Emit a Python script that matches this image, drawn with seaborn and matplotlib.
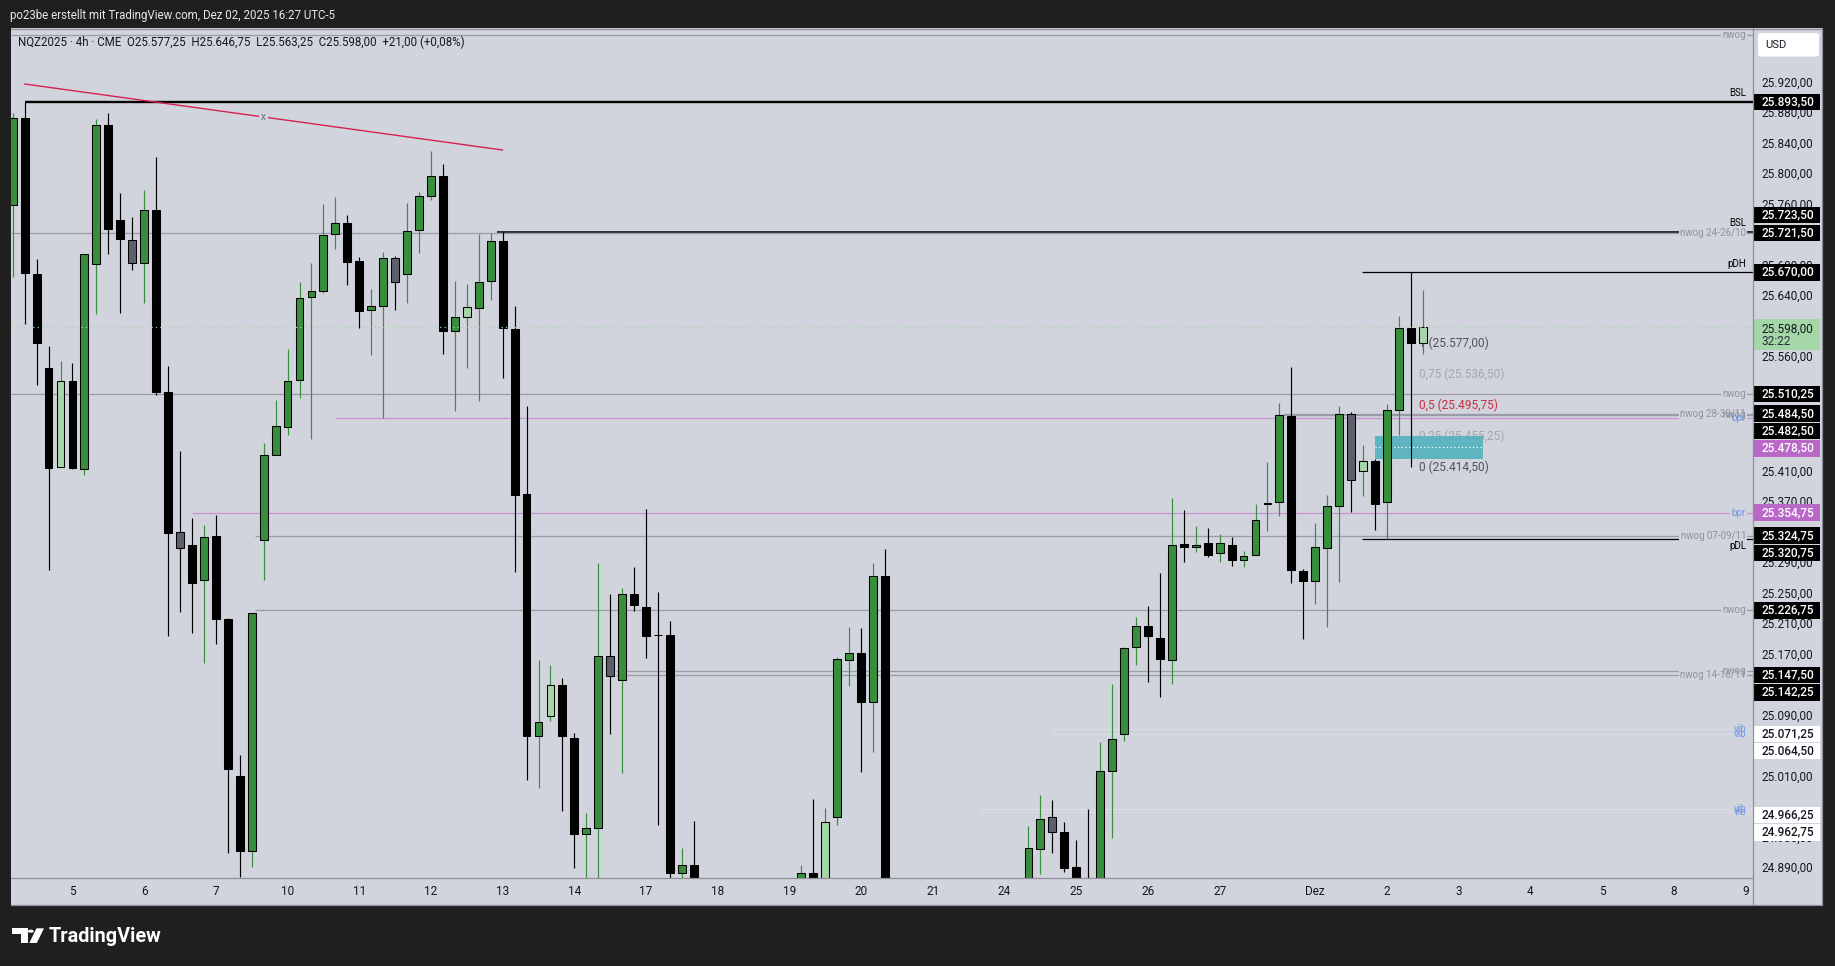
import matplotlib
matplotlib.use("Agg")
import numpy as np
import matplotlib.pyplot as plt
from matplotlib.patches import Rectangle, FancyBboxPatch, Circle, Polygon
from matplotlib.lines import Line2D
import seaborn as sns

# ---------------- data (NQZ2025, 4h bars) ----------------
opens = [25758.5, 25872.8, 25667.3, 25544.4, 25414.9, 25527.9, 25412.3, 25680.5, 25862.9, 25738.0,
         25712.9, 25682.5, 25751.2, 25512.7, 25329.0, 25311.8, 25266.2, 25323.7, 25214.7, 25009.2,
         24911.4, 25319.1, 25430.1, 25467.8, 25529.2, 25637.5, 25646.1, 25720.8, 25735.3, 25684.5,
         25620.8, 25626.4, 25689.2, 25667.8, 25724.9, 25770.7, 25795.8, 25592.5, 25612.0, 25622.6,
         25659.0, 25710.5, 25596.3, 25379.8, 25062.3, 25088.6, 25128.2, 25059.8, 24933.0, 24941.8,
         25167.1, 25135.7, 25248.0, 25231.7, 25194.7, 25194.7, 24882.8, 24892.9, 24760.0, 24700.0,
         24620.0, 24660.0, 24720.0, 24610.0, 24680.0, 24760.0, 24830.0, 24882.2, 24830.0, 24956.2,
         25162.1, 25170.8, 25106.8, 25271.9, 24700.0, 24540.0, 24450.0, 24520.0, 24360.0, 24420.0,
         24560.0, 24680.0, 24740.0, 24700.0, 24760.0, 24800.0, 24914.2, 24956.2, 24936.2, 24890.3,
         24840.0, 24830.0, 25015.8, 25064.2, 25178.4, 25206.6, 25190.9, 25161.4, 25313.3, 25310.2,
         25314.5, 25301.4, 25312.7, 25292.6, 25298.9, 25366.5, 25368.5, 25481.5, 25278.2, 25264.9,
         25308.9, 25362.9, 25484.6, 25409.9, 25422.5, 25368.5, 25489.0, 25596.9, 25577.25]
highs = [25879.4, 25893.5, 25687.1, 25573.5, 25553.6, 25551.7, 25694.4, 25870.8, 25878.7, 25773.7,
         25742.6, 25778.3, 25821.2, 25547.0, 25436.0, 25347.5, 25338.9, 25352.1, 25216.7, 25037.0,
         25222.6, 25446.6, 25502.8, 25568.9, 25657.4, 25682.5, 25759.8, 25769.0, 25745.2, 25689.8,
         25648.4, 25696.7, 25691.7, 25760.7, 25775.1, 25829.1, 25812.1, 25659.0, 25654.6, 25719.9,
         25721.5, 25723.5, 25626.4, 25495.2, 25161.4, 25154.5, 25138.2, 25066.1, 24960.6, 25289.4,
         25248.0, 25255.5, 25283.2, 25359.1, 25250.5, 25212.3, 24915.4, 24950.0, 24820.0, 24780.0,
         24700.0, 24760.0, 24800.0, 24700.0, 24790.0, 24850.0, 24892.2, 24979.4, 24968.1, 25165.2,
         25204.7, 25203.5, 25288.8, 25307.0, 24760.0, 24600.0, 24560.0, 24600.0, 24480.0, 24600.0,
         24720.0, 24800.0, 24820.0, 24780.0, 24840.0, 24943.7, 24984.5, 24977.6, 24948.7, 24926.1,
         24965.6, 25053.5, 25130.0, 25178.4, 25217.9, 25232.3, 25276.3, 25373.5, 25357.8, 25337.1,
         25334.6, 25326.5, 25322.7, 25304.5, 25366.0, 25421.2, 25498.4, 25546.1, 25280.7, 25340.9,
         25377.9, 25494.6, 25486.5, 25443.2, 25425.0, 25497.8, 25612.6, 25670.0, 25646.75]
lows = [25663.3, 25601.9, 25522.6, 25280.1, 25414.9, 25411.6, 25403.7, 25615.7, 25693.7, 25617.1,
        25672.6, 25630.3, 25509.4, 25193.6, 25223.9, 25197.5, 25157.9, 25182.3, 24908.1, 24877.1,
        24890.3, 25266.9, 25430.1, 25457.2, 25504.8, 25451.9, 25643.5, 25701.0, 25652.8, 25596.6,
        25561.2, 25478.3, 25620.1, 25630.2, 25694.8, 25764.5, 25562.4, 25488.4, 25544.8, 25500.9,
        25634.0, 25531.6, 25277.5, 25004.5, 24993.9, 25081.1, 24963.7, 24889.1, 24840.0, 24850.0,
        25064.8, 25014.0, 25226.1, 25164.6, 24945.6, 24875.9, 24860.0, 24700.0, 24640.0, 24560.0,
        24520.0, 24600.0, 24580.0, 24540.0, 24640.0, 24700.0, 24800.0, 24790.0, 24810.0, 24945.6,
        25127.5, 25015.2, 25040.3, 24640.0, 24480.0, 24380.0, 24350.0, 24300.0, 24200.0, 24380.0,
        24500.0, 24620.0, 24650.0, 24640.0, 24700.0, 24780.0, 24880.9, 24908.6, 24884.1, 24810.0,
        24790.0, 24820.0, 24928.0, 25054.8, 25155.2, 25133.2, 25113.7, 25130.0, 25290.7, 25302.6,
        25296.3, 25290.7, 25285.0, 25283.8, 25298.9, 25330.9, 25350.9, 25263.1, 25189.7, 25235.5,
        25205.3, 25264.3, 25355.9, 25376.7, 25332.7, 25320.75, 25457.0, 25414.5, 25563.25]
closes = [25872.8, 25668.6, 25576.8, 25413.6, 25527.9, 25412.9, 25694.4, 25862.9, 25727.4, 25714.2,
          25682.5, 25751.2, 25512.7, 25327.7, 25307.9, 25263.0, 25322.4, 25215.4, 25019.1, 24911.4,
          25222.6, 25430.1, 25469.1, 25527.9, 25636.9, 25646.1, 25719.5, 25735.3, 25683.1, 25619.7,
          25626.4, 25689.2, 25657.8, 25723.7, 25769.5, 25795.8, 25592.5, 25612.0, 25623.9, 25657.8,
          25710.5, 25597.5, 25378.5, 25062.3, 25079.9, 25128.2, 25062.3, 24933.6, 24941.8, 25167.1,
          25140.7, 25248.6, 25234.2, 25193.4, 25194.7, 24882.8, 24892.9, 24760.0, 24700.0, 24620.0,
          24660.0, 24720.0, 24610.0, 24680.0, 24760.0, 24820.0, 24882.2, 24820.0, 24948.7, 25162.7,
          25170.2, 25106.8, 25271.9, 24700.0, 24540.0, 24450.0, 24520.0, 24360.0, 24420.0, 24560.0,
          24680.0, 24740.0, 24700.0, 24760.0, 24800.0, 24914.8, 24952.5, 24936.2, 24889.1, 24840.0,
          24830.0, 25015.8, 25057.9, 25177.1, 25206.6, 25192.8, 25162.7, 25312.7, 25310.2, 25312.7,
          25299.5, 25314.5, 25293.2, 25298.2, 25344.7, 25367.2, 25483.3, 25279.4, 25264.9, 25310.2,
          25362.9, 25484.6, 25398.0, 25422.5, 25366.6, 25489.0, 25596.9, 25577.0, 25598.0]
light_bars = [4, 38, 45, 68, 113, 118]
gray_bars = [10, 14, 32, 50, 87, 112]

day_tick_bars = [5, 11, 17, 23, 29, 35, 41, 47, 53, 59, 65, 71, 77, 83, 89, 95, 101, 109,
                 115, 121, 127, 133, 139, 145]
day_tick_labels = ["5", "6", "7", "10", "11", "12", "13", "14", "17", "18", "19", "20", "21",
                   "24", "25", "26", "27", "Dez", "2", "3", "4", "5", "8", "9"]
price_ticks = [25920, 25880, 25840, 25800, 25760, 25680, 25640, 25560, 25410, 25370, 25290,
               25250, 25210, 25170, 25090, 25010, 24930, 24890]

level_prices = [25981.0, 25893.5, 25723.5, 25721.5, 25670.0, 25510.25, 25484.5, 25482.5,
                25478.5, 25354.75, 25324.75, 25320.75, 25226.75, 25147.5, 25142.25,
                25071.25, 25064.5, 24966.25, 24962.75]
level_start = [None, 1, 40.5, None, 112.9, None, 106.3, 106.3, 27, 15, 20.3, 112.9, 20.3,
               50.5, 50.5, 87, 87, 81, 81]
level_kind = ['nwog', 'bsl2', 'bsl', 'nwog', 'pdh', 'nwog', 'nwog', 'nwog', 'bpr', 'bpr',
              'nwog', 'pdl', 'nwog', 'nwog', 'nwog', 'vib', 'vib', 'vib', 'vib']
level_text = ['nwog', 'BSL', 'BSL', 'nwog 24-26/10', 'pDH', 'nwog', 'nwog 28-30/11', 'nwog',
              'bpr', 'bpr', 'nwog 07-09/11', 'pDL', 'nwog', 'nwog', 'nwog 14-16/11',
              'vib', 'vib', 'vib', 'vib']

fib_ratio_labels = ["1", "0,75", "0,5", "0,25", "0"]
fib_values = [25577.0, 25536.5, 25495.75, 25455.25, 25414.5]
fib_start = 117.7

fvg_start, fvg_end = 114, 123
fvg_low, fvg_high = 25425.0, 25456.0

trend_x = [1, 41]
trend_y = [25917.0, 25830.4]

last_price = 25598.0
countdown = "32:22"

# ---------------- style ----------------
sns.set_theme(style="white")
plt.rcParams['font.family'] = ['Roboto', 'DejaVu Sans']

W, H, DPI = 1835, 966, 100
FRAME = '#1f1f1f'
PANE = '#d1d4dc'
TXT = '#131722'
GREEN = '#388e3c'
LIGHT = '#a5d6a7'
GRAYC = '#5d606b'
BORDER = '#8d9099'


def de(v):
    s = f"{v:,.2f}"
    return s.replace(",", "X").replace(".", ",").replace("X", ".")


def fx(px):
    return px / W


def fy(py):
    return 1 - py / H


fig = plt.figure(figsize=(W / DPI, H / DPI), dpi=DPI, facecolor=FRAME)

# pane background
fig.patches.append(Rectangle((fx(10.5), fy(905)), fx(1822) - fx(10.5), fy(28) - fy(905),
                             transform=fig.transFigure, facecolor=PANE, edgecolor='none', zorder=-1))

PL, PR, PT, PB = 10.5, 1752.5, 28, 878
ax = fig.add_axes([fx(PL), fy(PB), fx(PR) - fx(PL), fy(PT) - fy(PB)])
ax.set_facecolor(PANE)
XL = (PL - 12.7) / 11.95
XR = (PR - 12.7) / 11.95
YT = 25920 + (81.7 - PT) / 0.7625
YB = 25920 - (PB - 81.7) / 0.7625
for s in ax.spines.values():
    s.set_visible(False)

# ---------------- levels ----------------
line_style = {
    'nwog': dict(color='#9a9ca5', lw=0.9),
    'bsl2': dict(color='black', lw=1.7),
    'bsl': dict(color='black', lw=1.1),
    'pdh': dict(color='black', lw=0.9),
    'pdl': dict(color='black', lw=0.9),
    'bpr': dict(color='#c793d6', lw=0.9),
    'vib': dict(color='#dcdfe6', lw=0.6),
}
text_style = {
    'nwog': ('#8f929b', 'center'), 'bsl2': ('black', 'above'), 'bsl': ('black', 'above'),
    'pdh': ('black', 'above'), 'pdl': ('black', 'below'), 'bpr': ('#6b96ee', 'center'),
    'vib': ('#6b96ee', 'center'),
}
for p, st, kind in zip(level_prices, level_start, level_kind):
    x0 = XL if st is None else st
    ax.hlines(p, x0, XR, zorder=1, **line_style[kind])

tx = ax.get_yaxis_transform()
lab_x = (1746 - PL) / (PR - PL)
# gap backgrounds for centered labels
for p, kind, t in zip(level_prices, level_kind, level_text):
    col, pos = text_style[kind]
    if pos == 'center':
        ax.text(lab_x, p, t, transform=tx, ha='right', va='center', fontsize=7,
                color=(0, 0, 0, 0), zorder=5,
                bbox=dict(boxstyle='square,pad=0.15', facecolor=PANE, edgecolor='none'))
for p, kind, t in zip(level_prices, level_kind, level_text):
    col, pos = text_style[kind]
    if pos == 'center':
        ax.text(lab_x, p, t, transform=tx, ha='right', va='center', fontsize=7,
                color=col, zorder=6)
    elif pos == 'above':
        ax.annotate(t, (lab_x, p), xycoords=tx, xytext=(0, 2.5), textcoords='offset points',
                    ha='right', va='bottom', fontsize=7, color=col, zorder=6)
    else:
        ax.annotate(t, (lab_x, p), xycoords=tx, xytext=(0, -2), textcoords='offset points',
                    ha='right', va='top', fontsize=7, color=col, zorder=6)

# trend line (seaborn)
sns.lineplot(x=trend_x, y=trend_y, ax=ax, color='#d6214f', linewidth=1.0, zorder=2, legend=False)
mid_x = (trend_x[0] + trend_x[1]) / 2
mid_y = (trend_y[0] + trend_y[1]) / 2
ax.text(mid_x, mid_y, "x", ha='center', va='center', fontsize=7, color='#6b6e78', zorder=2.2,
        bbox=dict(boxstyle='square,pad=0.2', facecolor=PANE, edgecolor='none'))

# fib texts
fib_colors = ['#50535e', '#a3a6af', '#c9303e', '#a3a6af', '#50535e']
for lab, v, c in zip(fib_ratio_labels, fib_values, fib_colors):
    ax.text(fib_start, v, f"{lab} ({de(v)})", ha='left', va='center', fontsize=8.6,
            color=c, zorder=1.2)

# FVG box
ax.add_patch(Rectangle((fvg_start, fvg_low), fvg_end - fvg_start, fvg_high - fvg_low,
                       facecolor='#55b3be', edgecolor='none', alpha=0.93, zorder=1.5))
ax.hlines((fvg_low + fvg_high) / 2, fvg_start, fvg_end, colors='white', linestyles=(0, (1, 2)),
          lw=0.9, zorder=1.6)

# ---------------- candles ----------------
o = np.array(opens)
h = np.array(highs)
l = np.array(lows)
c = np.array(closes)
x = np.arange(len(o))
up = c > o
body_col = np.where(up, GREEN, 'black').astype(object)
wick_col = np.where(up, GREEN, 'black').astype(object)
for i in light_bars:
    body_col[i] = LIGHT
for i in gray_bars:
    body_col[i] = GRAYC
ax.vlines(x, l, h, colors=list(wick_col), linewidth=0.85, zorder=3)
ax.bar(x, np.abs(c - o), bottom=np.minimum(o, c), width=0.66, color=list(body_col),
       edgecolor='black', linewidth=0.75, zorder=4)

# last price dotted line
ax.axhline(last_price, color=LIGHT, linestyle=(0, (1, 2.5)), lw=0.9, zorder=5)

ax.set_xlim(XL, XR)
ax.set_ylim(YB, YT)
ax.set_xlabel("")
ax.set_ylabel("")

# axes ticks
ax.set_xticks(day_tick_bars)
ax.set_xticklabels(day_tick_labels)
ax.tick_params(axis='x', length=0, pad=5.2, labelsize=8.5, labelcolor=TXT)
ax.yaxis.tick_right()
ax.set_yticks(price_ticks)
ax.set_yticklabels([de(p) for p in price_ticks])
ax.tick_params(axis='y', length=0, pad=6.6, labelsize=8.5, labelcolor=TXT)
ax.grid(False)

# ---------------- price-axis labels ----------------
axis_style = {'nwog': ('black', 'white'), 'bsl2': ('black', 'white'), 'bsl': ('black', 'white'),
              'pdh': ('black', 'white'), 'pdl': ('black', 'white'),
              'bpr': ('#ba68c8', 'white'), 'vib': ('white', TXT)}
# layout nudges (pixels) mimicking TradingView's label collision handling
label_nudge = {2: -16.5, 13: 4.3, 15: 5.0, 17: 6.0}


def price_py(p):
    return H - ax.transData.transform((0, p))[1]


order = sorted(range(len(level_prices)), key=lambda k: -level_prices[k])
prev = -1e9
BX0, BX1, BH = 1753.5, 1820, 16.6
for k in order:
    p, kind = level_prices[k], level_kind[k]
    py = price_py(p)
    if py < 62:
        continue
    y = max(py + label_nudge.get(k, 0.0), prev + 17.3)
    prev = y
    bg, fg = axis_style[kind]
    fig.patches.append(Rectangle((fx(BX0), fy(y + BH / 2)), fx(BX1) - fx(BX0), BH / H,
                                 transform=fig.transFigure, facecolor=bg, edgecolor='none', zorder=10))
    fig.text(fx(1761.5), fy(y), de(p), color=fg, fontsize=8.5, ha='left', va='center',
             fontweight='medium', zorder=11)

# current price label
py = price_py(last_price)
fig.patches.append(Rectangle((fx(BX0), fy(py + 22.3)), fx(BX1) - fx(BX0), 30.2 / H,
                             transform=fig.transFigure, facecolor=LIGHT, edgecolor='none', zorder=10))
fig.text(fx(1761.5), fy(py + 2.3), de(last_price), color=TXT, fontsize=8.5, ha='left',
         va='center', zorder=11)
fig.text(fx(1761.5), fy(py + 14.5), countdown, color='#2a2e39', fontsize=8.5, ha='left',
         va='center', zorder=11)

# USD box
fig.patches.append(FancyBboxPatch((fx(1758), fy(56.5)), fx(1819) - fx(1758), 23.5 / H,
                                  boxstyle='round,pad=0,rounding_size=0.002',
                                  transform=fig.transFigure, facecolor='white',
                                  edgecolor='none', zorder=10))
fig.text(fx(1765), fy(44.5), "USD", color=TXT, fontsize=8, ha='left', va='center', zorder=11)

# borders
for (xa, xb, ya, yb) in [(PL, PR, PB, PB), (PR, PR, PT, 905), (10.5, 1822, 905, 905),
                         (1822, 1822, 28, 905), (10.5, 1822, 28.5, 28.5)]:
    fig.lines.append(Line2D([fx(xa), fx(xb)], [fy(ya), fy(yb)], transform=fig.transFigure,
                            color=BORDER, lw=0.9, zorder=12))

# header texts
fig.text(fx(9.5), fy(15), "po23be erstellt mit TradingView.com, Dez 02, 2025 16:27 UTC-5",
         color='#e8e8e8', fontsize=8.3, ha='left', va='center')
chg = closes[-1] - closes[-2]
pct = chg / closes[-2] * 100
pct_txt = f"{pct:+.2f}%".replace('.', ',')
legend_txt = (f"NQZ2025 · 4h · CME  O{de(opens[-1])}  H{de(highs[-1])}  L{de(lows[-1])}  "
              f"C{de(closes[-1])}  {'+' if chg >= 0 else ''}{de(chg)} ({pct_txt})")
fig.text(fx(18), fy(42.5), legend_txt, color=TXT, fontsize=8.3, ha='left', va='center', zorder=12)


# TradingView logo
def poly(pts, **kw):
    fig.patches.append(Polygon([(fx(a), fy(b)) for a, b in pts], closed=True,
                               transform=fig.transFigure, **kw))


poly([(11.5, 928.3), (27.5, 928.3), (27.5, 943), (20.5, 943), (20.5, 933.5), (11.5, 933.5)],
     facecolor='white', edgecolor='none', zorder=5)
fig.patches.append(Circle((fx(30.8), fy(931.2)), 3.0 / W, transform=fig.transFigure,
                          facecolor='white', edgecolor='none', zorder=5))
poly([(36.5, 928.3), (44.0, 928.3), (36.8, 943), (29.3, 943)],
     facecolor='white', edgecolor='none', zorder=5)
fig.text(fx(48.5), fy(936.5), "TradingView", color='white', fontsize=14.3, fontweight='bold',
         ha='left', va='center')

fig.savefig("out.png", dpi=DPI, facecolor=FRAME)
